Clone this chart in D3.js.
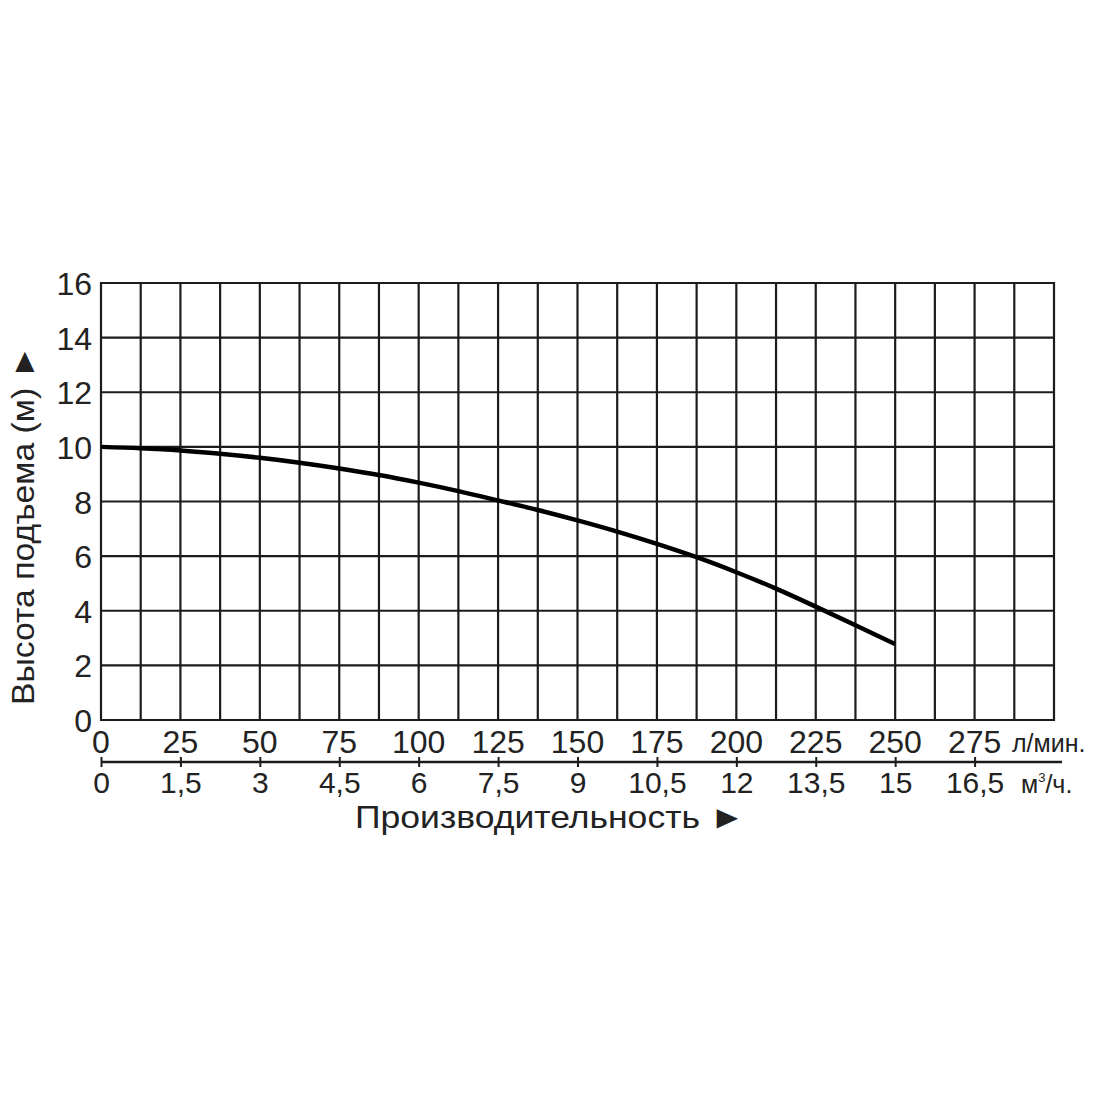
<!DOCTYPE html>
<html>
<head>
<meta charset="utf-8">
<script src="https://cdn.jsdelivr.net/npm/d3@7"></script>
<style>
  body { margin: 0; background: #fff; }
  text { font-family: "Liberation Sans", Arial, sans-serif; fill: #222; }
</style>
</head>
<body>
<svg id="chart" width="1100" height="1100"></svg>
<script>
// pump curve: flow (l/min) vs head (m)
var flowLpm = [0, 12.5, 25, 37.5, 50, 62.5, 75, 87.5, 100, 112.5, 125, 137.5, 150, 162.5, 175, 187.5, 200, 212.5, 225, 237.5, 250];
var headM = [10, 9.95, 9.87, 9.75, 9.6, 9.42, 9.21, 8.97, 8.69, 8.38, 8.04, 7.69, 7.31, 6.9, 6.45, 5.96, 5.41, 4.81, 4.15, 3.47, 2.78];

// axis ticks
var headTicks = [0, 2, 4, 6, 8, 10, 12, 14, 16];
var gridFlow = d3.range(0, 300.1, 12.5);
var lpmTicks = [0, 25, 50, 75, 100, 125, 150, 175, 200, 225, 250, 275];
var m3hTicks = [0, 1.5, 3, 4.5, 6, 7.5, 9, 10.5, 12, 13.5, 15, 16.5];

// plot box (window.top is taken, so no "top" here)
var pLeft = 101, pRight = 1054, pTop = 283, pBottom = 720;
var svg = d3.select("#chart");

var x = d3.scaleLinear().domain([0, 300]).range([pLeft, pRight]);
var xm = d3.scaleLinear().domain([0, 18]).range([pLeft, pRight]);
var y = d3.scaleLinear().domain([0, 16]).range([pBottom, pTop]);

// grid, vertical
svg.append("g").selectAll("line")
    .data(gridFlow)
    .join("line")
    .attr("x1", function(d) { return x(d); })
    .attr("x2", function(d) { return x(d); })
    .attr("y1", pTop - 1)
    .attr("y2", pBottom + 1)
    .attr("stroke", "#1c1c1c")
    .attr("stroke-width", 2.2);

// grid, horizontal
svg.append("g").selectAll("line")
    .data(headTicks)
    .join("line")
    .attr("x1", pLeft - 1)
    .attr("x2", pRight + 1)
    .attr("y1", function(d) { return y(d); })
    .attr("y2", function(d) { return y(d); })
    .attr("stroke", "#1c1c1c")
    .attr("stroke-width", 2.2);

// y tick labels
svg.append("g").selectAll("text")
    .data(headTicks)
    .join("text")
    .attr("x", 92)
    .attr("y", function(d) { return y(d) + 12; })
    .attr("text-anchor", "end")
    .attr("font-size", 32)
    .text(function(d) { return d; });

// l/min labels
svg.append("g").selectAll("text")
    .data(lpmTicks)
    .join("text")
    .attr("x", function(d) { return x(d); })
    .attr("y", 753)
    .attr("text-anchor", "middle")
    .attr("font-size", 32)
    .text(function(d) { return d; });

svg.append("text")
    .attr("x", 1012).attr("y", 752)
    .attr("font-size", 25)
    .text("л/мин.");

// second axis in m3/h
var fmt = function(d) { return String(d).replace(".", ","); };
var axM = svg.append("g")
    .attr("transform", "translate(0,762)")
    .call(d3.axisBottom(xm).tickValues(m3hTicks).tickSize(5).tickFormat(fmt));
axM.select(".domain").remove();
axM.selectAll(".tick line").attr("y1", -5).attr("stroke", "#1c1c1c").attr("stroke-width", 2);
axM.selectAll(".tick text")
    .attr("y", 31)
    .attr("dy", null)
    .attr("font-size", 30)
    .attr("font-family", "Liberation Sans, Arial, sans-serif")
    .attr("fill", "#222");
axM.append("line")
    .attr("x1", pLeft).attr("x2", 1062)
    .attr("y1", 0).attr("y2", 0)
    .attr("stroke", "#1c1c1c")
    .attr("stroke-width", 2.4);

var unit = svg.append("text")
    .attr("x", 1021).attr("y", 793)
    .attr("font-size", 25);
unit.append("tspan").text("м");
unit.append("tspan").attr("dy", -11).attr("font-size", 13).text("3");
unit.append("tspan").attr("dy", 11).text("/ч.");

// titles
svg.append("text")
    .attr("transform", "translate(34,525) rotate(-90)")
    .attr("text-anchor", "middle")
    .attr("font-size", 32)
    .attr("textLength", 360)
    .attr("lengthAdjust", "spacingAndGlyphs")
    .text("Высота подъема (м) ►");

svg.append("text")
    .attr("x", 550).attr("y", 828)
    .attr("text-anchor", "middle")
    .attr("font-size", 32)
    .attr("textLength", 390)
    .attr("lengthAdjust", "spacingAndGlyphs")
    .text("Производительность ►");

// curve
var line = d3.line()
    .x(function(d, i) { return x(flowLpm[i]); })
    .y(function(d) { return y(d); })
    .curve(d3.curveMonotoneX);

svg.append("path")
    .datum(headM)
    .attr("d", line)
    .attr("fill", "none")
    .attr("stroke", "#000")
    .attr("stroke-width", 4.5);
</script>
</body>
</html>
